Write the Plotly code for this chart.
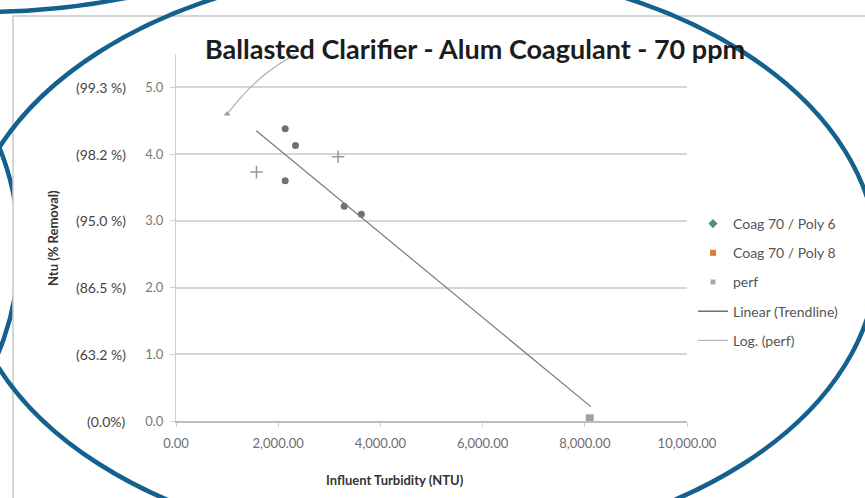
import plotly.graph_objects as go

# ---- data -----------------------------------------------------------------
# Coag 70 / Poly 6 samples
poly6_x = [2137, 2339, 2137, 3292, 3626]
poly6_y = [4.38, 4.13, 3.60, 3.22, 3.10]
# Coag 70 / Poly 8 samples
poly8_x = [1575, 3172]
poly8_y = [3.73, 3.96]
# perf samples
perf_x = [1002, 8096]
perf_y = [4.60, 0.04]
# Linear trendline (end points)
lin_x = [1571, 8117]
lin_y = [4.35, 0.215]
# Logarithmic trendline through perf
log_x = [1002, 1250, 1458, 1800, 2330]
log_y = [4.60, 4.83, 5.00, 5.23, 5.50]

# y ticks: log reduction and matching % removal
y_ticks = [0, 1, 2, 3, 4, 5]
y_tick_text = ["0.0", "1.0", "2.0", "3.0", "4.0", "5.0"]
pct_text = ["(0.0%)", "(63.2 %)", "(86.5 %)", "(95.0 %)", "(98.2 %)", "(99.3 %)"]
x_ticks = [0, 2000, 4000, 6000, 8000, 10000]

# ---- geometry helpers (pixel -> paper) -------------------------------------
W, H = 865, 498
L, R, T, B = 176, 178, 54, 77
PW, PH = W - L - R, H - T - B


def px(x):
    return (x - L) / PW


def py(y):
    return (H - B - y) / PH


def oval(cx, cy, rx, ry, layer, color="#14618f", width=4.5):
    return dict(type="circle", xref="paper", yref="paper", layer=layer,
                x0=px(cx - rx), x1=px(cx + rx), y0=py(cy - ry), y1=py(cy + ry),
                line=dict(color=color, width=width))


FONT = "Lato, 'Open Sans', sans-serif"

fig = go.Figure()

# data markers (grouped with their legend entries)
fig.add_trace(go.Scatter(x=poly6_x, y=poly6_y, mode="markers", legendgroup="p6",
                         showlegend=False,
                         marker=dict(symbol="circle", size=7, color="#707070")))
fig.add_trace(go.Scatter(x=poly8_x, y=poly8_y, mode="markers", legendgroup="p8",
                         showlegend=False,
                         marker=dict(symbol="cross-thin", size=9,
                                     line=dict(color="#999999", width=1.5))))
fig.add_trace(go.Scatter(x=perf_x[:1], y=perf_y[:1], mode="markers", legendgroup="pf",
                         showlegend=False,
                         marker=dict(symbol="triangle-up", size=6, color="#9a9a9a")))
fig.add_trace(go.Scatter(x=perf_x[1:], y=perf_y[1:], mode="markers", legendgroup="pf",
                         showlegend=False,
                         marker=dict(symbol="square", size=8, color="#a0a0a0")))

# trendlines
fig.add_trace(go.Scatter(x=lin_x, y=lin_y, mode="lines", legendgroup="lin",
                         showlegend=False, line=dict(color="#7a7a7a", width=1.2)))
fig.add_trace(go.Scatter(x=log_x, y=log_y, mode="lines", legendgroup="log",
                         showlegend=False, line=dict(color="#ababab", width=1.1,
                                                     shape="spline")))

# legend entries
fig.add_trace(go.Scatter(x=[None], y=[None], mode="markers", name="Coag 70 / Poly 6",
                         legendgroup="p6",
                         marker=dict(symbol="diamond", size=7, color="#4e8d80")))
fig.add_trace(go.Scatter(x=[None], y=[None], mode="markers", name="Coag 70 / Poly 8",
                         legendgroup="p8",
                         marker=dict(symbol="square", size=6, color="#e0793a")))
fig.add_trace(go.Scatter(x=[None], y=[None], mode="markers", name="perf",
                         legendgroup="pf",
                         marker=dict(symbol="square", size=5, color="#ababab")))
fig.add_trace(go.Scatter(x=[None], y=[None], mode="lines", name="Linear (Trendline)",
                         legendgroup="lin", line=dict(color="#555555", width=1.3)))
fig.add_trace(go.Scatter(x=[None], y=[None], mode="lines", name="Log. (perf)",
                         legendgroup="log", line=dict(color="#b5b5b5", width=1.3)))

# % removal labels beside the y tick labels
annotations = []
for v, t in zip(y_ticks, pct_text):
    annotations.append(dict(x=px(128), y=v, xref="paper", yref="y", text=t,
                            showarrow=False, xanchor="right", yanchor="middle",
                            font=dict(family=FONT, size=14, color="#444444")))

annotations += [
    dict(x=px(475), y=py(49), xref="paper", yref="paper",
         text="<b>Ballasted Clarifier - Alum Coagulant - 70 ppm</b>",
         showarrow=False, xanchor="center", yanchor="middle",
         font=dict(family=FONT, size=27, color="#1c1c1c")),
    dict(x=px(395), y=py(480), xref="paper", yref="paper",
         text="<b>Influent Turbidity (NTU)</b>", showarrow=False,
         xanchor="center", yanchor="middle",
         font=dict(family=FONT, size=13, color="#333333")),
    dict(x=px(53), y=py(238), xref="paper", yref="paper",
         text="<b>Ntu (% Removal)</b>", showarrow=False, textangle=-90,
         xanchor="center", yanchor="middle",
         font=dict(family=FONT, size=13, color="#333333")),
]

shapes = [
    # neighbouring outlines partly hidden behind the chart sheet
    oval(-20, -200, 408, 212, "below"),
    oval(-200, 249, 219, 245, "below"),
    # chart sheet
    dict(type="rect", xref="paper", yref="paper", layer="below",
         x0=px(13), x1=px(880), y0=py(16), y1=py(510),
         fillcolor="white", line=dict(color="#c9c9c9", width=1.5)),
    # highlight ellipse on top of the chart
    oval(421, 258, 456, 291, "above"),
]

fig.update_layout(
    width=W, height=H,
    margin=dict(l=L, r=R, t=T, b=B),
    paper_bgcolor="white", plot_bgcolor="rgba(0,0,0,0)",
    font=dict(family=FONT, size=13, color="#555555"),
    showlegend=True,
    legend=dict(x=px(693), y=py(208), xanchor="left", yanchor="top",
                bgcolor="rgba(0,0,0,0)", tracegroupgap=8,
                font=dict(family=FONT, size=14, color="#555555")),
    annotations=annotations,
    shapes=shapes,
)

fig.update_xaxes(range=[0, 10000], tickvals=x_ticks, tickformat=",.2f",
                 showgrid=False, zeroline=False, showline=True,
                 linecolor="#bdbdbd", linewidth=1.5, ticks="outside",
                 ticklen=4, tickcolor="#cfcfcf", ticklabelstandoff=6,
                 tickfont=dict(family=FONT, size=13, color="#6e6e6e"))
fig.update_yaxes(range=[0, 5.5], tickvals=y_ticks, ticktext=y_tick_text,
                 showgrid=True, gridcolor="#d6d6d6", gridwidth=1.5,
                 zeroline=False, showline=True, linecolor="#cfcfcf",
                 linewidth=1.2, ticks="outside", ticklen=5, tickcolor="#cfcfcf",
                 ticklabelstandoff=4,
                 tickfont=dict(family=FONT, size=13, color="#7a7a7a"))

fig.write_html("out.html")
